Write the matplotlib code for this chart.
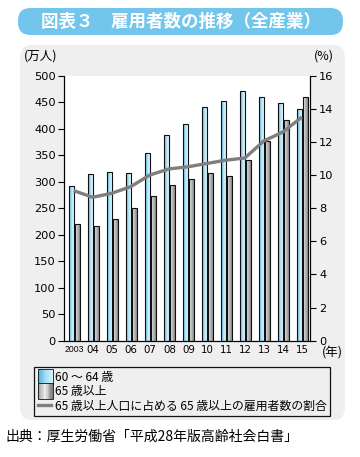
import numpy as np
import matplotlib
matplotlib.use("Agg")
import matplotlib.pyplot as plt
from matplotlib.patches import FancyBboxPatch, Rectangle, Patch
from matplotlib.lines import Line2D
from matplotlib.legend_handler import HandlerBase
import matplotlib.colors as mcolors

plt.rcParams['font.family'] = ['DejaVu Sans', 'Noto Sans CJK JP']

years = ["2003", "04", "05", "06", "07", "08", "09", "10", "11", "12", "13", "14", "15"]
age60_64 = [292, 314, 318, 316, 354, 389, 408, 440, 452, 472, 459, 448, 438]
age65plus = [220, 216, 229, 250, 273, 293, 306, 316, 310, 340, 377, 416, 459]
ratio = [9.06, 8.66, 8.9, 9.3, 10.0, 10.37, 10.5, 10.7, 10.9, 11.03, 12.06, 12.6, 13.5]
left_ticks = [0, 50, 100, 150, 200, 250, 300, 350, 400, 450, 500]
right_ticks = [0, 2, 4, 6, 8, 10, 12, 14, 16]
legend_labels = ["60 ～ 64 歳", "65 歳以上", "65 歳以上人口に占める 65 歳以上の雇用者数の割合"]
title_text = "図表３　雇用者数の推移（全産業）"
source_text = "出典：厚生労働省「平成28年版高齢社会白書」"

W, H = 360, 457
fig = plt.figure(figsize=(W / 100, H / 100), dpi=100)
fig.patch.set_facecolor("white")

def fx(px):
    return px / W

def fy(py):
    return 1 - py / H

# panel background
panel = FancyBboxPatch((fx(20), fy(420)), fx(345) - fx(20), fy(45) - fy(420),
                       boxstyle="round,pad=0,rounding_size=0.03",
                       transform=fig.transFigure, facecolor="#efefef", edgecolor="none", zorder=-5)
fig.patches.append(panel)
# title banner
banner = FancyBboxPatch((fx(18), fy(35)), fx(343) - fx(18), fy(8) - fy(35),
                        boxstyle="round,pad=0,rounding_size=0.035",
                        transform=fig.transFigure, facecolor="#72c6ec", edgecolor="none", zorder=-5,
                        mutation_aspect=W / H)
fig.patches.append(banner)
fig.text(fx(181), fy(22), title_text, color="white", fontsize=12.6, fontweight="bold",
         family=["Noto Sans CJK JP"], ha="center", va="center")

ax = fig.add_axes([fx(64), fy(340.7), fx(309.5) - fx(64), fy(75.7) - fy(340.7)])
ax.set_zorder(1)
ax.set_facecolor("white")
x = np.arange(len(years))
bw_blue, bw_gray = 0.30, 0.26
blue_colors = ["#49acd8", "#9fdcf2", "#d2f1fb", "#eafafe"]
gray_colors = ["#f2f2f2", "#d0d0d0", "#a8a8a8", "#8a8a8a"]

def gradient_bars(bars, colors):
    cmap = mcolors.LinearSegmentedColormap.from_list("g", colors)
    grad = np.linspace(0, 1, 64).reshape(1, -1)
    for b in bars:
        x0, y0 = b.get_x(), b.get_y()
        w, h = b.get_width(), b.get_height()
        im = ax.imshow(grad, cmap=cmap, extent=(x0, x0 + w, y0, y0 + h), aspect="auto",
                       interpolation="bilinear", zorder=2)
        im.set_clip_path(b)

bars1 = ax.bar(x - bw_blue / 2, age60_64, width=bw_blue, facecolor="none",
               edgecolor="#111111", linewidth=0.8, zorder=3)
bars2 = ax.bar(x + 0.02 + bw_gray / 2, age65plus, width=bw_gray, facecolor="none",
               edgecolor="#111111", linewidth=0.8, zorder=3)
gradient_bars(bars1, blue_colors)
gradient_bars(bars2, gray_colors)

ax.set_xlim(-0.537, 12.37)
ax.set_ylim(0, 500)
ax.set_yticks(left_ticks)
ax.set_xticks(x)
ax.set_xticklabels(years)
for i, lab in enumerate(ax.get_xticklabels()):
    if i == 0:
        lab.set_fontsize(6.2)
        lab.set_family(["Liberation Sans"])
    else:
        lab.set_fontsize(7.4)
ax.tick_params(axis="x", length=0, pad=3)
ax.tick_params(axis="y", direction="out", length=4, width=0.8, labelsize=8.2, pad=2)
ax.spines["top"].set_visible(False)
for s in ["left", "right", "bottom"]:
    ax.spines[s].set_linewidth(0.8)
    ax.spines[s].set_color("#111111")

ax2 = ax.twinx()
ax2.set_zorder(2)
ax2.patch.set_visible(False)
ax2.plot(x - 0.03, ratio, color="#7f7f7f", linewidth=2.4, zorder=5, solid_capstyle="butt")
ax2.set_ylim(0, 16)
ax2.set_yticks(right_ticks)
ax2.tick_params(axis="y", direction="out", length=4, width=0.8, labelsize=8.2, pad=3)
ax2.spines["top"].set_visible(False)
ax2.spines["right"].set_linewidth(0.8)
ax2.set_xlim(-0.537, 12.37)

fig.text(fx(24), fy(56), "(万人)", fontsize=9, family=["Noto Sans CJK JP"], ha="left", va="center")
fig.text(fx(334), fy(56), "(%)", fontsize=9, family=["Noto Sans CJK JP"], ha="right", va="center")
fig.text(fx(332), fy(353), "(年)", fontsize=9, family=["Noto Sans CJK JP"], ha="center", va="center")

class GradHandler(HandlerBase):
    def __init__(self, colors):
        super().__init__()
        self.colors = colors

    def create_artists(self, legend, orig_handle, xdescent, ydescent, width, height, fontsize, trans):
        cmap = mcolors.LinearSegmentedColormap.from_list("g", self.colors)
        n = 12
        arts = []
        s = 11.0
        x0 = -xdescent
        y0 = -ydescent + (height - s) / 2
        for k in range(n):
            r = Rectangle((x0 + s * k / n, y0), s / n + 0.05, s,
                          facecolor=cmap(k / (n - 1)), edgecolor="none", transform=trans)
            arts.append(r)
        arts.append(Rectangle((x0, y0), s, s, facecolor="none",
                              edgecolor="#111111", linewidth=0.6, transform=trans))
        return arts

h1 = Patch(label=legend_labels[0])
h2 = Patch(label=legend_labels[1])
h3 = Line2D([], [], color="#7f7f7f", linewidth=2.4, label=legend_labels[2])
leg = fig.legend(handles=[h1, h2, h3], labels=legend_labels,
                 handler_map={h1: GradHandler(blue_colors[:3]), h2: GradHandler(["#9a9a9a", "#f4f4f4", "#777777"])},
                 loc="upper left", bbox_to_anchor=(fx(34), fy(367)), frameon=True, fancybox=False,
                 edgecolor="#111111", facecolor="#efefef", framealpha=1,
                 prop={"family": ["Noto Sans CJK JP"], "size": 8.6},
                 handlelength=1.15, handleheight=1.0, handletextpad=0.3, labelspacing=0.12, borderpad=0.3,
                 borderaxespad=0)
leg.get_frame().set_linewidth(0.9)

fig.text(fx(5), fy(437), source_text, fontsize=10.0, family=["Noto Sans CJK JP"], ha="left", va="center")

fig.savefig("out.png", dpi=100, facecolor="white")
